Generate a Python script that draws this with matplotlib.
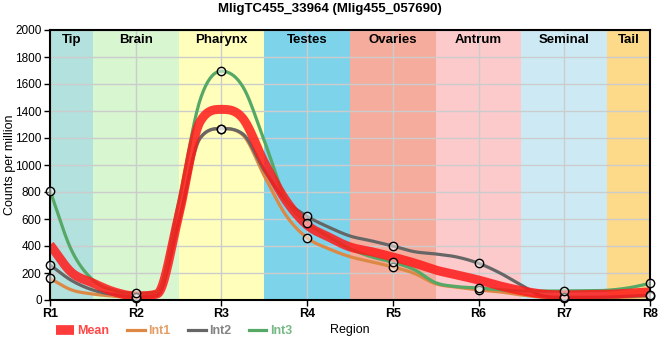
import numpy as np
import matplotlib
matplotlib.use("Agg")
import matplotlib.pyplot as plt
from matplotlib.lines import Line2D

plt.rcParams['font.family'] = ['Liberation Sans', 'DejaVu Sans']

regions = ["R1", "R2", "R3", "R4", "R5", "R6", "R7", "R8"]
# curve values read every quarter region (R1, R1.25, ... R8); markers sit on whole regions
pos = np.arange(0, 7.01, 0.25)
mean = [410, 205, 126, 60, 30, 45, 620, 1320, 1412, 1345, 1020, 740, 555, 467, 393,
        358, 318, 274, 222, 185, 148, 104, 69, 44, 38, 40, 42, 50, 60]
int1 = [160, 75, 44, 28, 15, 30, 560, 1195, 1270, 1222, 920, 630, 460, 380, 321,
        283, 245, 197, 120, 95, 75, 60, 37, 20, 15, 12, 15, 22, 30]
int2 = [260, 145, 74, 40, 25, 35, 580, 1200, 1270, 1230, 960, 740, 620, 540, 474,
        438, 400, 358, 341, 318, 272, 200, 110, 30, 20, 20, 22, 28, 35]
int3 = [810, 370, 148, 70, 50, 60, 720, 1480, 1695, 1580, 1180, 750, 570, 470, 380,
        320, 280, 225, 128, 99, 89, 76, 67, 66, 67, 68, 72, 90, 123]

tissues = ["Tip", "Brain", "Pharynx", "Testes", "Ovaries", "Antrum", "Seminal", "Tail"]
tissue_colors = ["#b3e1dd", "#d8f6d0", "#ffffbb", "#7dd3ea", "#f5ac9c",
                 "#fdcacb", "#cdeaf4", "#fdd98a"]


def smooth(xs, ys, n=20):
    # cubic Hermite with central-difference slopes, limited so it never overshoots
    xs = np.asarray(xs, float)
    ys = np.asarray(ys, float)
    h = np.diff(xs)
    dl = np.diff(ys) / h
    m = np.zeros_like(ys)
    m[0], m[-1] = dl[0], dl[-1]
    for i in range(1, len(ys) - 1):
        if dl[i - 1] * dl[i] > 0:
            c = (ys[i + 1] - ys[i - 1]) / (xs[i + 1] - xs[i - 1])
            lim = 3 * min(abs(dl[i - 1]), abs(dl[i]))
            m[i] = np.sign(c) * min(abs(c), lim)
    outx, outy = [], []
    t = np.linspace(0, 1, n)
    for i in range(len(h)):
        h00 = 2 * t ** 3 - 3 * t ** 2 + 1
        h10 = t ** 3 - 2 * t ** 2 + t
        h01 = -2 * t ** 3 + 3 * t ** 2
        h11 = t ** 3 - t ** 2
        outx.extend(xs[i] + t * h[i])
        outy.extend(h00 * ys[i] + h10 * h[i] * m[i] + h01 * ys[i + 1] + h11 * h[i] * m[i + 1])
    return np.array(outx), np.array(outy)


fig = plt.figure(figsize=(6.6, 3.6), dpi=100)
ax = fig.add_axes([50 / 660, 60 / 360, 600 / 660, 270 / 360])

x = np.arange(len(regions))
label_x = [0.25, 1, 2, 3, 4, 5, 6, 6.75]
for i, (name, col) in enumerate(zip(tissues, tissue_colors)):
    ax.axvspan(i - 0.5, i + 0.5, color=col, zorder=0, lw=0)
    ax.text(label_x[i], 1925, name, ha="center", va="center",
            fontsize=9.5, fontweight="bold", zorder=5)

ax.set_xlim(0, 7)
ax.set_ylim(0, 2000)
ax.set_xticks(x)
ax.set_xticklabels(regions, fontsize=9, fontweight="bold")
ax.set_yticks(np.arange(0, 2001, 200))
ax.tick_params(axis="y", labelsize=8.5, length=4, width=1, pad=2)
ax.tick_params(axis="x", length=4, width=1, pad=2)
ax.grid(True, color="#cccccc", lw=1, zorder=1)
ax.set_axisbelow(False)
for sp in ax.spines.values():
    sp.set_linewidth(1.5)
    sp.set_zorder(6)

series = [(int1, "#dd8844"), (int2, "#666666"), (int3, "#55a866")]
for vals, col in series:
    sx, sy = smooth(pos, vals)
    ax.plot(sx, sy, color=col, lw=2.3, zorder=3, solid_capstyle="round")

mx, my = smooth(pos, mean)
ax.plot(mx, my, color="#ff1a1a", lw=6.5, alpha=0.85, zorder=4, solid_capstyle="butt")

for vals, col in series:
    ax.plot(pos[::4], vals[::4], ls="none", marker="o", ms=6, mfc=(1, 1, 1, 0.5),
            mec="black", mew=1, zorder=7, clip_on=False)

ax.set_ylabel("Counts per million", fontsize=9)
ax.yaxis.set_label_coords(-0.057, 0.5)
ax.set_xlabel("Region", fontsize=9, labelpad=3)
fig.suptitle("MligTC455_33964 (Mlig455_057690)", fontsize=9.5, fontweight="bold",
             y=1 - 3 / 360, va="top")

handles = [Line2D([], [], color="#ff1a1a", lw=7, alpha=0.85, solid_capstyle="butt"),
           Line2D([], [], color="#dd8844", lw=2.3),
           Line2D([], [], color="#666666", lw=2.3),
           Line2D([], [], color="#55a866", lw=2.3)]
labels = ["Mean", "Int1", "Int2", "Int3"]
leg = fig.legend(handles, labels, loc="center left", ncol=4,
                 bbox_to_anchor=(45 / 660, 1 - 331 / 360), frameon=False,
                 handlelength=1.4, handletextpad=0.3, columnspacing=1.4,
                 prop={"size": 9, "weight": "bold"})
for txt, h in zip(leg.get_texts(), handles):
    txt.set_color(h.get_color())
    txt.set_alpha(0.8)

fig.savefig("out.png", dpi=100)
